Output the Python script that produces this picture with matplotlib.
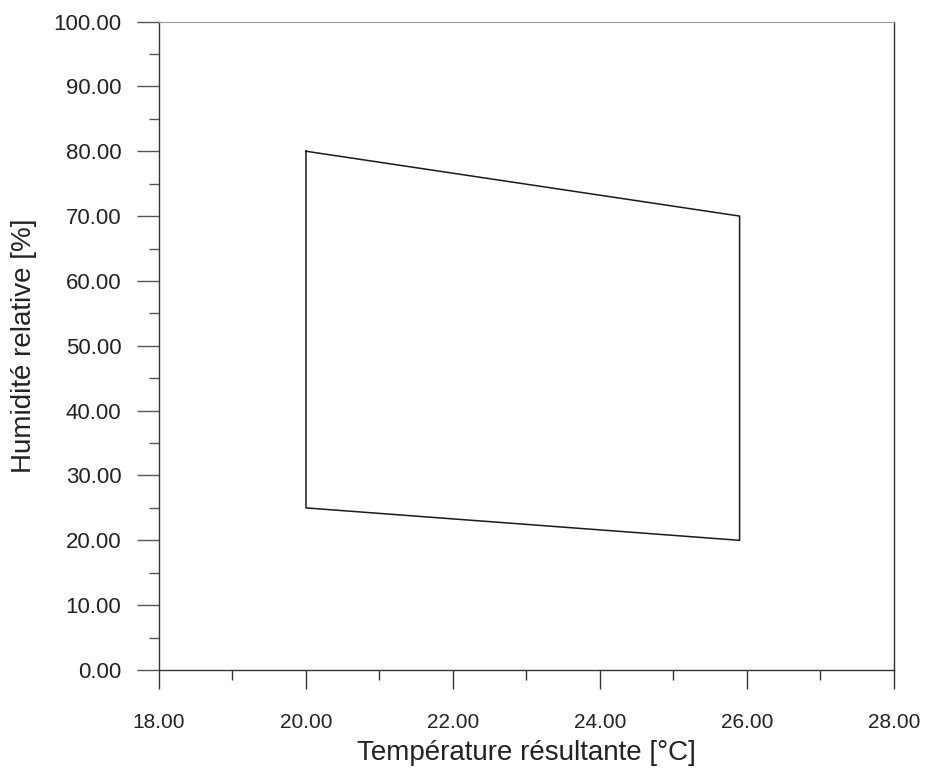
import numpy as np
import matplotlib
matplotlib.use("Agg")
import matplotlib.pyplot as plt
from matplotlib.ticker import MultipleLocator, FormatStrFormatter

plt.rcParams['font.family'] = ['Liberation Sans', 'DejaVu Sans']

# zone de confort : sommets du polygone (temperature, humidite)
temperature = [20.0, 25.9, 25.9, 20.0, 20.0]
humidite = [80.0, 70.0, 20.0, 25.0, 80.0]

x_min, x_max = 18.0, 28.0
y_min, y_max = 0.0, 100.0

fig = plt.figure(figsize=(9.28, 7.69), dpi=100)
ax = fig.add_axes([0.1713, 0.1287, 0.792, 0.8433])

ax.plot(temperature, humidite, color='#1a1a1a', linewidth=1.1)

ax.set_xlim(x_min, x_max)
ax.set_ylim(y_min, y_max)

ax.xaxis.set_major_locator(MultipleLocator(2))
ax.xaxis.set_minor_locator(MultipleLocator(1))
ax.yaxis.set_major_locator(MultipleLocator(10))
ax.yaxis.set_minor_locator(MultipleLocator(5))
ax.xaxis.set_major_formatter(FormatStrFormatter('%.2f'))
ax.yaxis.set_major_formatter(FormatStrFormatter('%.2f'))

ax.tick_params(axis='x', which='major', direction='out', length=14, width=1.0,
               color='#333333', labelsize=15, pad=17, labelcolor='#222222')
ax.tick_params(axis='x', which='minor', direction='out', length=7, width=1.0,
               color='#333333')
ax.tick_params(axis='y', which='major', direction='out', length=16, width=1.0,
               color='#555555', labelsize=16, pad=11, labelcolor='#222222')
ax.tick_params(axis='y', which='minor', direction='out', length=7, width=1.0,
               color='#555555')

for side in ['left', 'right', 'bottom']:
    ax.spines[side].set_color('#333333')
    ax.spines[side].set_linewidth(1.0)
ax.spines['top'].set_color('#9a9a9a')
ax.spines['top'].set_linewidth(0.8)
ax.spines['top'].set_linestyle((0, (4, 1)))

ax.set_xlabel("Température résultante [°C]", fontsize=20, color='#222222', labelpad=6)
ax.set_ylabel("Humidité relative [%]", fontsize=20, color='#222222', labelpad=12)

fig.savefig("out.png", dpi=100, facecolor='white')
